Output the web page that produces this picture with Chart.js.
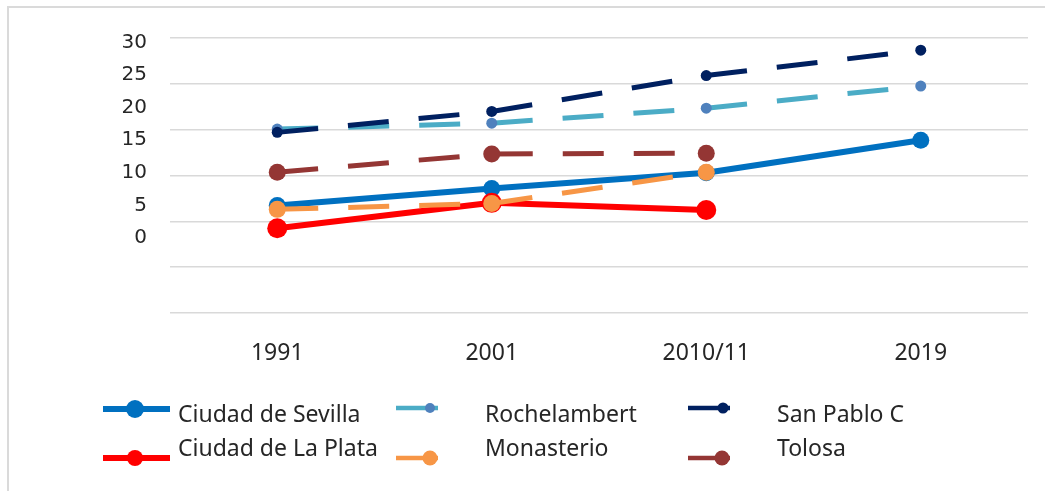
<!DOCTYPE html>
<html lang="es">
<head>
<meta charset="UTF-8">
<title>Evolución por barrio</title>
<script src="https://cdn.jsdelivr.net/npm/chart.js"></script>
<style>
    * {
        margin: 0;
        padding: 0;
    }

    body {
        width: 1045px;
        height: 491px;
        background: #ffffff;
        position: relative;
        overflow: hidden;
        font-family: "Noto Sans", sans-serif;
    }

    #marco {
        position: absolute;
        left: 7px;
        top: 6px;
        width: 1100px;
        height: 600px;
        border-left: 2px solid #dadada;
        border-top: 2px solid #dadada;
    }

    #grafico {
        position: absolute;
        left: 0;
        top: 0;
    }

    .item {
        position: absolute;
    }

    .item canvas {
        position: absolute;
    }

    .item span {
        position: absolute;
        white-space: nowrap;
        font-size: 23px;
        color: #262626;
        transform: translateY(-50%);
        line-height: 1;
    }
</style>
</head>
<body>
<div id="marco"></div>
<canvas id="grafico" width="1045" height="491"></canvas>
<div id="leyenda"></div>

<script>
    // datos
    const categorias = ['1991', '2001', '2010/11', '2019'];
    const ticksY = [0, 5, 10, 15, 20, 25, 30];

    const sevilla = [5.0, 7.6, 10.0, 15.0];
    const laPlata = [1.5, 5.4, 4.3, null];
    const rochelambert = [16.7, 17.6, 19.9, 23.3];
    const sanPablo = [16.2, 19.4, 24.9, 28.8];
    const monasterio = [4.4, 5.3, 10.1, null];
    const tolosa = [10.1, 12.9, 13.0, null];

    const nombres = ['Ciudad de Sevilla', 'Ciudad de La Plata', 'Rochelambert', 'San Pablo C', 'Monasterio', 'Tolosa'];

    // Excel reinicia el guion en cada tramo
    const tramos = {
        borderDashOffset: (ctx) => ctx.p0DataIndex * 0.001
    };

    const linea = (label, data, color, opts) => Object.assign({
        label: label,
        data: data,
        borderColor: color,
        backgroundColor: color,
        pointBackgroundColor: color,
        pointBorderColor: color,
        pointBorderWidth: 0,
        borderCapStyle: 'butt',
        fill: false,
        tension: 0,
        spanGaps: false,
        yAxisID: 'y',
        segment: tramos
    }, opts);

    const datasets = [
        linea(nombres[0], sevilla, '#0070C0', { borderWidth: 6, pointRadius: 8.5, order: 6 }),
        linea(nombres[1], laPlata, '#FF0000', { borderWidth: 6, pointRadius: 10, order: 5 }),
        linea(nombres[2], rochelambert, '#4BACC6', { borderWidth: 5, borderDash: [41, 30], pointRadius: 5.5, pointBackgroundColor: '#4F81BD', pointBorderColor: '#4F81BD', order: 4 }),
        linea(nombres[3], sanPablo, '#002060', { borderWidth: 5, borderDash: [41, 30], pointRadius: 5.5, order: 3 }),
        linea(nombres[4], monasterio, '#F79646', { borderWidth: 5, borderDash: [41, 30], pointRadius: 8.5, order: 2 }),
        linea(nombres[5], tolosa, '#943634', { borderWidth: 5, borderDash: [41, 30], pointRadius: 8.5, order: 1 })
    ];

    const ctx = document.getElementById('grafico').getContext('2d');
    const grafico = new Chart(ctx, {
        type: 'line',
        data: { labels: categorias, datasets: datasets },
        options: {
            responsive: false,
            animation: false,
            layout: { padding: { top: 38, right: 17, bottom: 0, left: 0 } },
            plugins: {
                legend: { display: false },
                tooltip: { enabled: false }
            },
            scales: {
                x: {
                    offset: true,
                    grid: { display: false, drawTicks: false },
                    border: { display: false },
                    ticks: {
                        padding: 27,
                        color: '#262626',
                        font: { family: 'Noto Sans', size: 23 }
                    },
                    afterFit: (s) => { s.height = 178; }
                },
                // eje de las etiquetas (desfasado respecto de las lineas de division, como en el original)
                y: {
                    position: 'left',
                    min: -11.48,
                    max: 30.66,
                    grid: { display: false, drawTicks: false },
                    border: { display: false },
                    afterBuildTicks: (s) => { s.ticks = ticksY.map(v => ({ value: v })); },
                    ticks: {
                        padding: 23,
                        color: '#262626',
                        font: { family: 'DejaVu Sans', size: 20 }
                    },
                    afterFit: (s) => { s.width = 170; }
                },
                // eje solo para las lineas de division
                yGrid: {
                    position: 'left',
                    min: 0,
                    max: 6,
                    ticks: { display: false, stepSize: 1 },
                    grid: { color: '#d9d9d9', lineWidth: 1.5, drawTicks: false },
                    border: { display: false },
                    afterFit: (s) => { s.width = 0; }
                }
            }
        }
    });

    // leyenda en tres columnas como en el original
    const posLeyenda = [
        { x: 103, y: 409, w: 67, cx: 32, r: 9, lw: 6, tx: 178, ty: 413 },
        { x: 103, y: 458, w: 67, cx: 32, r: 8, lw: 6, tx: 178, ty: 447 },
        { x: 396, y: 408, w: 42, cx: 34, r: 5, lw: 4.5, tx: 485, ty: 413 },
        { x: 688, y: 408, w: 42, cx: 35, r: 5.5, lw: 4.5, tx: 777, ty: 413 },
        { x: 396, y: 458, w: 42, cx: 34, r: 7.5, lw: 4.5, tx: 485, ty: 447 },
        { x: 688, y: 458, w: 42, cx: 34, r: 7.5, lw: 4.5, tx: 777, ty: 447 }
    ];

    const leyenda = document.getElementById('leyenda');
    datasets.forEach((ds, i) => {
        const p = posLeyenda[i];
        const item = document.createElement('div');
        item.className = 'item';

        const c = document.createElement('canvas');
        c.width = p.w;
        c.height = 24;
        c.style.left = p.x + 'px';
        c.style.top = (p.y - 12) + 'px';
        const g = c.getContext('2d');
        g.strokeStyle = ds.borderColor;
        g.lineWidth = p.lw;
        g.beginPath();
        g.moveTo(0, 12);
        g.lineTo(p.w, 12);
        g.stroke();
        g.fillStyle = ds.pointBackgroundColor;
        g.beginPath();
        g.arc(p.cx, 12, p.r, 0, Math.PI * 2);
        g.fill();

        const t = document.createElement('span');
        t.textContent = ds.label;
        t.style.left = p.tx + 'px';
        t.style.top = p.ty + 'px';

        item.appendChild(c);
        item.appendChild(t);
        leyenda.appendChild(item);
    });
</script>
</body>
</html>
